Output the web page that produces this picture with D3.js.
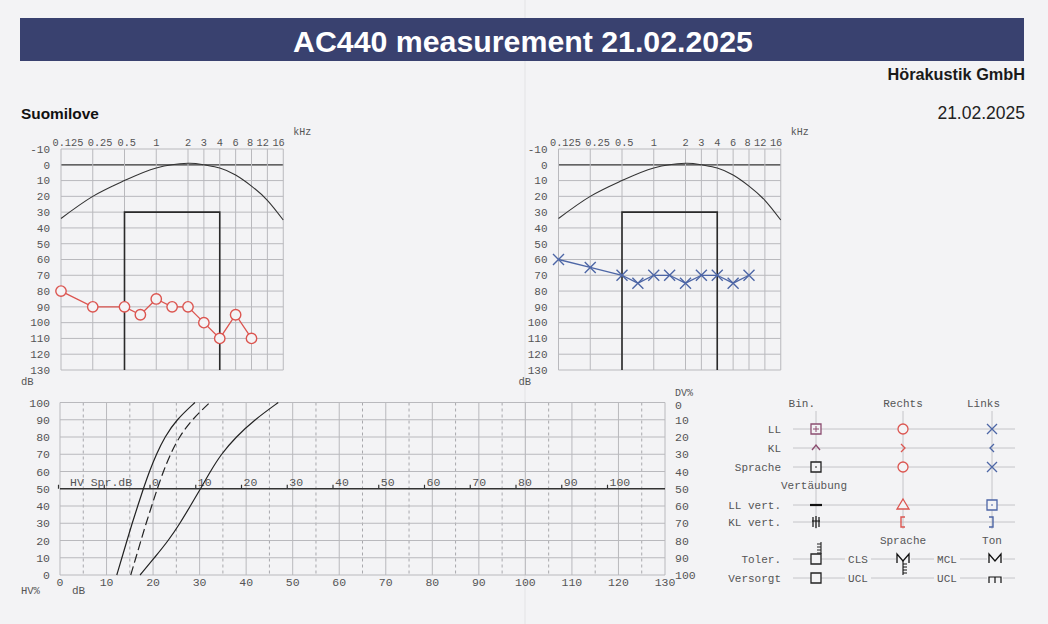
<!DOCTYPE html>
<html><head><meta charset="utf-8">
<script src="https://cdn.jsdelivr.net/npm/d3@7"></script>
<style>body{margin:0;background:#f3f3f5}svg{display:block}</style>
</head><body><svg id="c" width="1048" height="624"></svg>
<script>
// ---------- DATA ----------
const titleText = "AC440 measurement 21.02.2025";
const companyText = "Hörakustik GmbH";
const patientText = "Suomilove";
const dateText = "21.02.2025";

const freqTicks = [0.125, 0.25, 0.5, 1, 2, 3, 4, 6, 8, 12, 16];
const freqLabels = ["0.125", "0.25", "0.5", "1", "2", "3", "4", "6", "8", "12", "16"];
const octaveFreqs = [0.125, 0.25, 0.5, 1, 2, 4, 8, 16];
const dbTicks = [-10, 0, 10, 20, 30, 40, 50, 60, 70, 80, 90, 100, 110, 120, 130];

const measFreqs = [0.125, 0.25, 0.5, 0.75, 1, 1.5, 2, 3, 4, 6, 8];
const rightEar = [80, 90, 90, 95, 85, 90, 90, 100, 110, 95, 110];
const leftEar = [60, 65, 70, 75, 70, 70, 75, 70, 70, 75, 70];

const arcDb = [34, 20, 10, 2, -1, 0, 2, 6.5, 13.5, 22.5, 35]; // at freqTicks
const boxFreqs = [0.5, 4];
const boxTopDb = 30;

const speechDbTicks = [0, 10, 20, 30, 40, 50, 60, 70, 80, 90, 100, 110, 120, 130];
const speechHalfTicks = [5, 15, 25, 35, 45, 55, 65, 75, 85, 95, 105, 115, 125];
const pctTicks = [0, 10, 20, 30, 40, 50, 60, 70, 80, 90, 100];
const hvSprTicks = [-20, -10, 0, 10, 20, 30, 40, 50, 60, 70, 80, 90, 100];
const speechPct = [0, 10, 20, 30, 40, 50, 60, 70, 80, 90, 100];
const speechCurveA = [12.2, 13.3, 14.4, 15.5, 16.7, 17.9, 19.2, 20.7, 22.5, 25.0, 29.0];
const speechCurveB = [15.2, 16.3, 17.4, 18.5, 19.7, 20.9, 22.2, 23.7, 25.6, 28.3, 32.2];
const speechCurveC = [17.2, 20.3, 23.3, 25.8, 28.0, 30.2, 32.3, 34.6, 37.8, 41.8, 46.9];

const legendCols = ["Bin.", "Rechts", "Links"];
const legendRows = ["LL", "KL", "Sprache", "LL vert.", "KL vert.", "Toler.", "Versorgt"];

// ---------- STYLE / LAYOUT ----------
const RED = "#dc5550", BLUE = "#4d66a6", PURPLE = "#8c4d70";
const GRID = "#b9b9bd", TXT = "#555", MONO = "'Liberation Mono', 'DejaVu Sans Mono', monospace";
const SANS = "'Liberation Sans', Arial, sans-serif";
const BG = "#f3f3f5";
const freqLabelStart = { "0.125": -8.5, "0.25": -5, "0.5": -7 };

const svg = d3.select("#c");
svg.append("rect").attr("width", 1048).attr("height", 624).attr("fill", BG);
svg.append("line").attr("x1", 525).attr("x2", 525).attr("y1", 0).attr("y2", 624)
  .attr("stroke", "#000").attr("stroke-opacity", 0.03).attr("stroke-width", 2);

// ---------- HEADER ----------
svg.append("rect").attr("x", 20).attr("y", 18).attr("width", 1004).attr("height", 43).attr("fill", "#39416f");
svg.append("text").attr("x", 523).attr("y", 51.5).attr("text-anchor", "middle")
  .attr("font-family", SANS).attr("font-weight", "bold").attr("font-size", 30.3).attr("fill", "#fff").text(titleText);
svg.append("text").attr("x", 1025).attr("y", 80).attr("text-anchor", "end")
  .attr("font-family", SANS).attr("font-weight", "bold").attr("font-size", 16.3).attr("fill", "#1a1a1a").text(companyText);
svg.append("text").attr("x", 21).attr("y", 119).attr("font-family", SANS).attr("font-weight", "bold")
  .attr("font-size", 15.4).attr("fill", "#111").text(patientText);
svg.append("text").attr("x", 1025).attr("y", 119).attr("text-anchor", "end")
  .attr("font-family", SANS).attr("font-size", 17.5).attr("fill", "#222").text(dateText);

// ---------- AUDIOGRAMS ----------
function audiogram(ox, values, kind, color) {
  const g = svg.append("g");
  const x = d3.scaleLinear().domain(octaveFreqs).range(octaveFreqs.map((d, i) => ox + i * 31.75));
  const y = d3.scaleLinear().domain([-10, 130]).range([149, 370]);
  const x0 = x(freqTicks[0]), x1 = x(freqTicks[freqTicks.length - 1]);
  g.selectAll(".h").data(dbTicks).join("line")
    .attr("x1", x0).attr("x2", x1).attr("y1", d => y(d)).attr("y2", d => y(d))
    .attr("stroke", d => d === 0 ? "#333" : GRID).attr("stroke-width", d => d === 0 ? 1.2 : 1);
  g.selectAll(".v").data(freqTicks).join("line")
    .attr("x1", d => x(d)).attr("x2", d => x(d)).attr("y1", y(-10)).attr("y2", y(130))
    .attr("stroke", GRID);
  g.selectAll(".yl").data(dbTicks).join("text")
    .attr("x", ox - 11).attr("y", d => y(d)).attr("dy", "0.35em").attr("text-anchor", "end")
    .attr("font-family", MONO).attr("font-size", 11).attr("fill", TXT).text(d => d);
  g.selectAll(".xl").data(freqTicks).join("text")
    .attr("x", (d, i) => {
      const l = freqLabels[i];
      if (l in freqLabelStart) return x(d) + freqLabelStart[l];
      return l.length > 1 ? x(d) + 1.5 : x(d) - (l === "8" ? 1.5 : 0);
    })
    .attr("text-anchor", (d, i) => freqLabels[i] in freqLabelStart ? "start" : (freqLabels[i].length > 1 ? "end" : "middle"))
    .attr("y", 145.5).attr("font-family", MONO).attr("font-size", 10.3).attr("fill", TXT)
    .text((d, i) => freqLabels[i]);
  g.append("text").attr("x", x1 + 10).attr("y", 135).attr("font-family", MONO).attr("font-size", 10)
    .attr("fill", TXT).text("kHz");
  g.append("text").attr("x", ox - 40).attr("y", 385).attr("font-family", MONO).attr("font-size", 10.5)
    .attr("fill", TXT).text("dB");
  g.append("path").datum(freqTicks.map((f, i) => [f, arcDb[i]]))
    .attr("d", d3.line().x(d => x(d[0])).y(d => y(d[1])).curve(d3.curveNatural))
    .attr("fill", "none").attr("stroke", "#333").attr("stroke-width", 1.1);
  g.append("path")
    .attr("d", `M${x(boxFreqs[0])},${y(130)}V${y(boxTopDb)}H${x(boxFreqs[1])}V${y(130)}`)
    .attr("fill", "none").attr("stroke", "#2a2a2a").attr("stroke-width", 1.6);
  const pts = measFreqs.map((f, i) => [x(f), y(values[i])]);
  g.append("path").datum(pts).attr("d", d3.line()).attr("fill", "none").attr("stroke", color).attr("stroke-width", 1.3);
  if (kind === "o") {
    g.selectAll(".m").data(pts).join("circle").attr("cx", d => d[0]).attr("cy", d => d[1]).attr("r", 5.2)
      .attr("fill", BG).attr("stroke", color).attr("stroke-width", 1.4);
  } else {
    g.selectAll(".m").data(pts).join("path")
      .attr("d", d => `M${d[0] - 5.5},${d[1] - 5.5}L${d[0] + 5.5},${d[1] + 5.5}M${d[0] - 5.5},${d[1] + 5.5}L${d[0] + 5.5},${d[1] - 5.5}`)
      .attr("stroke", color).attr("stroke-width", 1.4);
  }
}
audiogram(61, rightEar, "o", RED);
audiogram(558.5, leftEar, "x", BLUE);

// ---------- SPEECH CHART ----------
{
  const g = svg.append("g");
  const x = d3.scaleLinear().domain([0, 130]).range([60, 665]);
  const y = d3.scaleLinear().domain([0, 100]).range([575, 402.5]);
  const yr = d3.scaleLinear().domain([0, 100]).range([402.5, 575]);
  const hx = d3.scaleLinear().domain([0, 100]).range([150, 607.5]);
  g.selectAll(".vd").data(speechHalfTicks).join("line")
    .attr("x1", d => x(d)).attr("x2", d => x(d)).attr("y1", y(100)).attr("y2", y(0))
    .attr("stroke", "#a8a8ac").attr("stroke-dasharray", "3,3");
  g.selectAll(".v").data(speechDbTicks).join("line")
    .attr("x1", d => x(d)).attr("x2", d => x(d)).attr("y1", y(100)).attr("y2", y(0)).attr("stroke", GRID);
  g.selectAll(".h").data(pctTicks.filter(d => d !== 50)).join("line")
    .attr("x1", x(0)).attr("x2", x(130)).attr("y1", d => y(d)).attr("y2", d => y(d)).attr("stroke", GRID);
  g.append("line").attr("x1", x(0)).attr("x2", x(130)).attr("y1", y(50)).attr("y2", y(50))
    .attr("stroke", "#333").attr("stroke-width", 1.4);
  g.selectAll(".ht").data(hvSprTicks).join("line")
    .attr("x1", d => hx(d)).attr("x2", d => hx(d)).attr("y1", y(50)).attr("y2", y(50) - 4)
    .attr("stroke", "#333").attr("stroke-width", 1.2);
  g.selectAll(".hl").data(hvSprTicks.filter(d => d >= 0)).join("text")
    .attr("x", d => hx(d) + 2).attr("y", y(50) - 3).attr("font-family", MONO).attr("font-size", 11.5)
    .attr("fill", TXT).text(d => d);
  g.append("text").attr("x", 70).attr("y", y(50) - 3).attr("font-family", MONO).attr("font-size", 11.5)
    .attr("fill", TXT).text("HV Spr.dB");
  g.selectAll(".yl").data(pctTicks).join("text")
    .attr("x", 50).attr("y", d => y(d)).attr("dy", "0.35em").attr("text-anchor", "end")
    .attr("font-family", MONO).attr("font-size", 11.5).attr("fill", TXT).text(d => d);
  g.selectAll(".yr").data(pctTicks).join("text")
    .attr("x", 675).attr("y", d => yr(d) + (d === 0 ? 2.5 : 0)).attr("dy", "0.35em")
    .attr("font-family", MONO).attr("font-size", 11.5).attr("fill", TXT).text(d => d);
  g.append("text").attr("x", 675).attr("y", 396).attr("font-family", MONO).attr("font-size", 10)
    .attr("fill", TXT).text("DV%");
  g.selectAll(".xl").data(speechDbTicks).join("text")
    .attr("x", d => x(d)).attr("y", 586).attr("text-anchor", "middle")
    .attr("font-family", MONO).attr("font-size", 11.5).attr("fill", TXT).text(d => d);
  g.append("text").attr("x", 21).attr("y", 594).attr("font-family", MONO).attr("font-size", 10.5).attr("fill", TXT).text("HV%");
  g.append("text").attr("x", 72).attr("y", 594).attr("font-family", MONO).attr("font-size", 11).attr("fill", TXT).text("dB");
  const line = d3.line().x(d => x(d[0])).y(d => y(d[1])).curve(d3.curveBasis);
  [[speechCurveA, null], [speechCurveB, "9,4"], [speechCurveC, null]].forEach(([arr, dash]) => {
    g.append("path").datum(arr.map((v, i) => [v, speechPct[i]])).attr("d", line)
      .attr("fill", "none").attr("stroke", "#222").attr("stroke-width", 1.2)
      .attr("stroke-dasharray", dash);
  });
}

// ---------- LEGEND ----------
{
  const g = svg.append("g");
  const colX = [816, 903, 992];
  const rowY = [429, 448, 467, 505, 522, 559, 578];
  const L = "#c4c4c8";
  g.selectAll(".c").data(colX).join("line").attr("x1", d => d).attr("x2", d => d)
    .attr("y1", 411).attr("y2", 529).attr("stroke", L);
  g.selectAll(".r").data(rowY).join("line").attr("x1", 793).attr("x2", 1015)
    .attr("y1", d => d).attr("y2", d => d).attr("stroke", L);
  const txt = (x, y, s, anchor) => g.append("text").attr("x", x).attr("y", y).attr("text-anchor", anchor || "middle")
    .attr("font-family", MONO).attr("font-size", 11).attr("fill", TXT).text(s);
  txt(815, 407, legendCols[0], "end"); txt(903, 407, legendCols[1]); txt(1000, 407, legendCols[2], "end");
  legendRows.forEach((r, i) => txt(781, rowY[i] + 4, r, "end"));
  txt(814, 489, "Vertäubung");
  txt(903, 544, "Sprache"); txt(992, 544, "Ton");
  [[858, 559, "CLS"], [947, 559, "MCL"], [858, 578, "UCL"], [947, 578, "UCL"]].forEach(([x, y, s]) => {
    g.append("rect").attr("x", x - 13).attr("y", y - 6).attr("width", 26).attr("height", 12).attr("fill", BG);
    txt(x, y + 4, s);
  });
  const P = (d, c, w, fill) => g.append("path").attr("d", d).attr("fill", fill || BG)
    .attr("stroke", c).attr("stroke-width", w || 1.3);
  const sq = (cx, cy, c) => P(`M${cx - 5},${cy - 5}h10v10h-10Z`, c);
  const circ = (cx, cy, c) => g.append("circle").attr("cx", cx).attr("cy", cy).attr("r", 5)
    .attr("fill", BG).attr("stroke", c).attr("stroke-width", 1.3);
  const ex = (cx, cy, c) => P(`M${cx - 5},${cy - 5}L${cx + 5},${cy + 5}M${cx - 5},${cy + 5}L${cx + 5},${cy - 5}`, c, 1.3, "none");
  sq(816, 429, PURPLE); P(`M816,426v6M813,429h6`, PURPLE, 1, "none");
  circ(903, 429, RED); ex(992, 429, BLUE);
  P(`M812,450L816,445L820,450`, PURPLE, 1.3, "none");
  P(`M901,444L905,448L901,452`, RED, 1.3, "none");
  P(`M994,444L990,448L994,452`, BLUE, 1.3, "none");
  sq(816, 467, "#222"); P(`M815,467h2`, "#222", 1, "none");
  circ(903, 467, RED); ex(992, 467, BLUE);
  P(`M810,505H822`, "#111", 2.2, "none");
  P(`M903,499L909,509L897,509Z`, RED);
  sq(992, 505, BLUE); P(`M991,505h2`, BLUE, 1, "none");
  P(`M813,517v10M816,516v12M819,517v10M812,521h8`, "#111", 1.2, "none");
  P(`M905,517H901V527H905`, RED, 1.4, "none");
  P(`M989,517H993V527H989`, BLUE, 1.4, "none");
  sq(816, 559, "#222");
  P(`M821,554V542M821,544h-4M821,547h-4M821,550h-4M821,553h-4`, "#222", 1.1, "none");
  g.append("rect").attr("x", 896).attr("y", 553).attr("width", 15).attr("height", 12).attr("fill", BG);
  P(`M897,563V554L903,561L909,554V563`, "#111", 1.3, "none");
  P(`M903,561V575M903,564h4M903,567h4M903,570h4M903,573h4`, "#111", 1.1, "none");
  g.append("rect").attr("x", 987).attr("y", 553).attr("width", 16).attr("height", 12).attr("fill", BG);
  P(`M989,563V554L995,561L1001,554V563`, "#111", 1.3, "none");
  sq(816, 578, "#222");
  g.append("rect").attr("x", 987).attr("y", 574).attr("width", 16).attr("height", 10).attr("fill", BG);
  P(`M989,583V577H1001V583M995,577V583`, "#111", 1.2, "none");
}
</script></body></html>
